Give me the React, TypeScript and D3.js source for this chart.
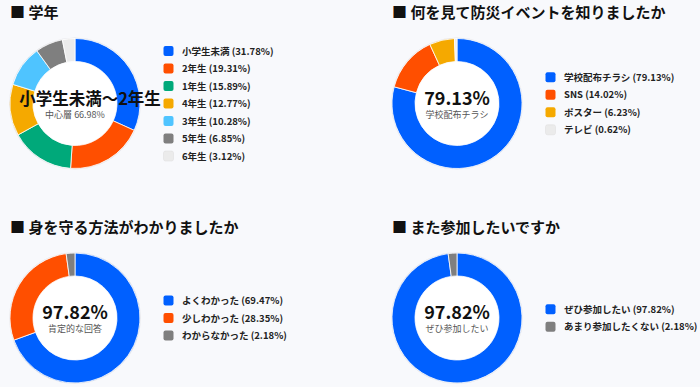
import * as d3 from "d3";
import { useEffect, useRef } from "react";

const gradeLabels = ["小学生未満", "2年生", "1年生", "4年生", "3年生", "5年生", "6年生"];
const gradeValues = [31.78, 19.31, 15.89, 12.77, 10.28, 6.85, 3.12];
const gradeColors = ["#0060ff", "#ff4f00", "#00a97a", "#f5a900", "#4fc4ff", "#7f7f7f", "#ebebeb"];

const sourceLabels = ["学校配布チラシ", "SNS", "ポスター", "テレビ"];
const sourceValues = [79.13, 14.02, 6.23, 0.62];
const sourceColors = ["#0060ff", "#ff4f00", "#f5a900", "#ebebeb"];

const understandLabels = ["よくわかった", "少しわかった", "わからなかった"];
const understandValues = [69.47, 28.35, 2.18];
const understandColors = ["#0060ff", "#ff4f00", "#7f7f7f"];

const againLabels = ["ぜひ参加したい", "あまり参加したくない"];
const againValues = [97.82, 2.18];
const againColors = ["#0060ff", "#7f7f7f"];

interface Panel {
  title: string;
  labels: string[];
  values: number[];
  colors: string[];
  centerMain: string;
  centerSub: string;
  mainSize: number;
  mainDx: number;
  x: number;
  y: number;
  titleY: number;
}

const panels: Panel[] = [
  { title: "■ 学年", labels: gradeLabels, values: gradeValues, colors: gradeColors, centerMain: "小学生未満〜2年生", centerSub: "中心層 66.98%", mainSize: 16.5, mainDx: 15, x: 75, y: 103.5, titleY: 18 },
  { title: "■ 何を見て防災イベントを知りましたか", labels: sourceLabels, values: sourceValues, colors: sourceColors, centerMain: "79.13%", centerSub: "学校配布チラシ", mainSize: 18, mainDx: 0, x: 457, y: 103.5, titleY: 18 },
  { title: "■ 身を守る方法がわかりましたか", labels: understandLabels, values: understandValues, colors: understandColors, centerMain: "97.82%", centerSub: "肯定的な回答", mainSize: 18, mainDx: 0, x: 75, y: 318, titleY: 233 },
  { title: "■ また参加したいですか", labels: againLabels, values: againValues, colors: againColors, centerMain: "97.82%", centerSub: "ぜひ参加したい", mainSize: 18, mainDx: 0, x: 457, y: 318, titleY: 233 },
];

const width = 700;
const height = 387;
const font = "'Noto Sans CJK JP', 'Noto Sans', sans-serif";

export default function App() {
  const svgRef = useRef<SVGSVGElement | null>(null);

  useEffect(() => {
    document.body.style.margin = "0";
    const svg = d3.select(svgRef.current);
    svg.selectAll("*").remove();

    svg.append("rect").attr("width", width).attr("height", height).attr("fill", "#f8f9fc");

    const outerR = 65;
    const innerR = 42;
    const pie = d3.pie<number>().sort(null).value((d) => d);
    const arc = d3.arc<d3.PieArcDatum<number>>().innerRadius(innerR).outerRadius(outerR);
    const rowStep = 17.5;

    panels.forEach((p) => {
      const left = p.x - outerR;
      svg
        .append("text")
        .attr("x", left)
        .attr("y", p.titleY)
        .attr("font-family", font)
        .attr("font-size", 15)
        .attr("font-weight", 700)
        .attr("fill", "#111")
        .text(p.title);

      const g = svg.append("g").attr("transform", `translate(${p.x},${p.y})`);
      g.append("circle").attr("r", outerR + 0.5).attr("fill", "none").attr("stroke", "#e6e6ea").attr("stroke-width", 1);
      g.selectAll("path")
        .data(pie(p.values))
        .join("path")
        .attr("d", arc)
        .attr("fill", (_, i) => p.colors[i])
        .attr("stroke", "#fff")
        .attr("stroke-width", 0.8);
      g.append("circle").attr("r", innerR - 0.4).attr("fill", "#fff");

      g.append("text")
        .attr("text-anchor", "middle")
        .attr("x", p.mainDx)
        .attr("y", 1)
        .attr("font-family", font)
        .attr("font-size", p.mainSize)
        .attr("font-weight", 700)
        .attr("fill", "#111")
        .text(p.centerMain);
      g.append("text")
        .attr("text-anchor", "middle")
        .attr("y", 14)
        .attr("font-family", font)
        .attr("font-size", 9)
        .attr("fill", "#555")
        .text(p.centerSub);

      const legendX = p.x + 88.5;
      const y0 = p.y - ((p.labels.length - 1) * rowStep) / 2;
      const rows = svg
        .append("g")
        .selectAll("g")
        .data(p.labels)
        .join("g")
        .attr("transform", (_, i) => `translate(${legendX},${y0 + i * rowStep})`);
      rows
        .append("rect")
        .attr("x", 0)
        .attr("y", -5)
        .attr("width", 10)
        .attr("height", 10)
        .attr("rx", 2)
        .attr("fill", (_, i) => p.colors[i])
        .attr("stroke", (_, i) => (p.colors[i] === "#ebebeb" ? "#dddddd" : "none"))
        .attr("stroke-width", 0.5);
      rows
        .append("text")
        .attr("x", 18.5)
        .attr("y", 3.6)
        .attr("font-family", font)
        .attr("font-size", 9.5)
        .attr("font-weight", 600)
        .attr("fill", "#222")
        .text((d, i) => `${d} (${p.values[i].toFixed(2)}%)`);
    });
  }, []);

  return <svg ref={svgRef} width={width} height={height} style={{ display: "block" }}></svg>;
}
